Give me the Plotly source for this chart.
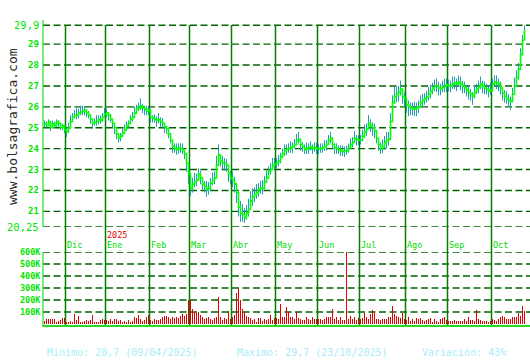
import plotly.graph_objects as go

W, H = 530, 360

# ---------------- data ----------------
month_labels = ["Dic", "Ene", "Feb", "Mar", "Abr", "May", "Jun", "Jul", "Ago", "Sep", "Oct"]
year_label = "2025"
year_month = "Ene"

close_nov = [25.2, 25.1, 25.3, 25.0, 25.2, 25.1, 25.3, 25.2, 25.0, 25.1, 24.9]
close_dec = [24.8, 25.0, 25.3, 25.5, 25.6, 25.6, 25.7, 25.75, 25.8, 25.85, 25.7, 25.6, 25.4, 25.2, 25.25, 25.3, 25.4, 25.35, 25.5, 25.65]
close_jan = [25.7, 25.6, 25.4, 25.2, 25.0, 24.7, 24.5, 24.6, 24.75, 24.9, 25.1, 25.2, 25.4, 25.5, 25.7, 25.9, 25.95, 26.05, 25.95, 25.9, 25.8, 25.85]
close_feb = [25.5, 25.45, 25.4, 25.35, 25.4, 25.3, 25.2, 25.05, 24.95, 24.7, 24.4, 24.1, 24.0, 23.95, 24.05, 24.0, 23.9, 23.75, 23.3, 22.8]
close_mar = [22.1, 22.3, 22.4, 22.5, 22.8, 22.6, 22.3, 22.2, 22.05, 22.1, 22.35, 22.5, 22.6, 23.2, 23.7, 23.4, 23.3, 23.3, 23.2, 22.8, 22.6]
close_apr = [22.5, 22.3, 21.9, 21.2, 20.9, 20.85, 20.7, 20.9, 21.1, 21.5, 21.7, 21.8, 21.9, 22.05, 22.1, 22.1, 22.4, 22.6, 22.9, 23.0, 23.2, 23.25]
close_may = [23.3, 23.4, 23.6, 23.75, 23.9, 24.0, 24.0, 24.05, 24.1, 24.2, 24.4, 24.45, 24.2, 24.1, 23.95, 24.0, 24.05, 24.1, 24.0, 24.05, 24.0]
close_jun = [24.0, 24.0, 24.05, 24.1, 24.2, 24.4, 24.5, 24.2, 24.05, 24.0, 23.95, 23.9, 23.85, 23.9, 23.9, 24.05, 24.2, 24.3, 24.5, 24.45, 24.4]
close_jul = [24.4, 24.6, 24.8, 24.95, 25.2, 25.1, 25.0, 24.85, 24.5, 24.2, 24.0, 24.1, 24.3, 24.4, 24.45, 25.3, 26.2, 26.5, 26.6, 26.7, 26.85, 26.5, 26.4]
close_aug = [26.1, 26.0, 25.95, 25.9, 25.9, 25.95, 26.0, 26.2, 26.3, 26.4, 26.45, 26.6, 26.75, 26.9, 27.0, 27.0, 26.9, 26.85, 26.95, 27.0, 27.05]
close_sep = [27.0, 27.0, 27.1, 27.15, 27.1, 27.2, 27.1, 27.0, 26.9, 26.8, 26.7, 26.6, 26.5, 26.7, 26.85, 26.95, 27.1, 27.0, 26.9, 26.85, 26.75, 26.8]
close_oct = [27.1, 27.2, 27.15, 27.1, 26.9, 26.65, 26.5, 26.4, 26.3, 26.25, 26.6, 27.0, 27.4, 27.8, 28.5, 29.2, 29.7]

# high above close / low below close, in cents
up_nov = [15, 20, 10, 25, 15, 20, 10, 15, 25, 10, 15]
dn_nov = [15, 10, 20, 15, 20, 10, 25, 15, 10, 20, 15]
up_dec = [20, 25, 30, 20, 25, 35, 20, 30, 25, 20, 15, 20, 25, 15, 20, 30, 20, 25, 20, 30]
dn_dec = [25, 20, 15, 20, 15, 20, 25, 15, 20, 25, 20, 15, 20, 25, 15, 20, 25, 15, 20, 15]
up_jan = [20, 15, 25, 20, 15, 20, 25, 15, 20, 25, 20, 15, 20, 25, 30, 20, 25, 35, 20, 15, 25, 20]
dn_jan = [20, 25, 15, 20, 30, 25, 20, 25, 15, 20, 25, 20, 15, 20, 25, 20, 15, 20, 25, 30, 20, 25]
up_feb = [20, 15, 25, 20, 30, 20, 25, 20, 15, 30, 35, 20, 25, 30, 20, 25, 35, 20, 25, 30]
dn_feb = [25, 20, 15, 30, 20, 25, 20, 30, 25, 20, 15, 30, 20, 25, 30, 20, 15, 25, 40, 50]
up_mar = [40, 30, 45, 30, 25, 35, 30, 25, 40, 30, 25, 35, 30, 45, 50, 30, 35, 25, 30, 40, 35]
dn_mar = [35, 40, 25, 30, 35, 30, 25, 30, 35, 30, 40, 25, 30, 35, 30, 25, 30, 35, 30, 40, 30]
up_apr = [40, 35, 45, 50, 60, 50, 45, 40, 50, 45, 40, 35, 40, 30, 35, 40, 30, 35, 25, 30, 35, 30]
dn_apr = [35, 40, 50, 45, 40, 35, 25, 30, 35, 40, 45, 35, 30, 35, 25, 30, 35, 25, 30, 25, 20, 25]
up_may = [25, 30, 20, 25, 30, 20, 25, 30, 20, 25, 30, 35, 25, 20, 25, 30, 20, 25, 20, 25, 30]
dn_may = [20, 25, 30, 20, 25, 30, 20, 25, 30, 20, 25, 20, 30, 25, 20, 25, 30, 20, 25, 20, 25]
up_jun = [20, 25, 20, 30, 20, 25, 30, 35, 20, 25, 20, 25, 30, 20, 25, 20, 30, 25, 35, 20, 25]
dn_jun = [25, 20, 25, 20, 30, 20, 25, 20, 30, 25, 20, 25, 20, 30, 20, 25, 20, 25, 20, 30, 25]
up_jul = [25, 30, 35, 25, 40, 30, 25, 35, 30, 25, 30, 35, 30, 40, 35, 40, 35, 45, 35, 30, 40, 35, 30]
dn_jul = [20, 25, 30, 35, 25, 30, 40, 35, 25, 30, 25, 30, 35, 40, 30, 35, 50, 35, 40, 45, 30, 35, 40]
up_aug = [35, 30, 25, 30, 35, 25, 30, 35, 30, 25, 30, 35, 30, 25, 30, 35, 30, 25, 30, 35, 30]
dn_aug = [40, 45, 35, 30, 35, 40, 30, 25, 35, 30, 25, 30, 35, 30, 25, 30, 35, 30, 25, 30, 35]
up_sep = [30, 25, 35, 30, 25, 30, 35, 25, 30, 25, 30, 25, 20, 30, 25, 30, 35, 25, 30, 25, 30, 35]
dn_sep = [25, 30, 25, 30, 35, 25, 30, 35, 25, 30, 35, 30, 40, 30, 25, 30, 25, 35, 30, 25, 30, 25]
up_oct = [25, 30, 35, 25, 30, 25, 30, 35, 30, 25, 30, 40, 35, 30, 30, 25, 20]
dn_oct = [30, 25, 30, 35, 30, 35, 30, 25, 30, 40, 35, 30, 40, 50, 60, 70, 50]

# volume, thousands
vol_nov = [22, 38, 42, 38, 42, 42, 15, 22, 35, 50, 48]
vol_dec = [20, 20, 28, 20, 85, 35, 65, 20, 15, 28, 35, 28, 35, 75, 15, 12, 20, 35, 40, 30]
vol_jan = [35, 28, 45, 22, 40, 45, 25, 35, 20, 28, 20, 35, 15, 28, 55, 50, 75, 40, 22, 35, 55, 75]
vol_feb = [35, 22, 40, 35, 30, 40, 55, 70, 65, 55, 40, 55, 50, 55, 50, 70, 80, 65, 85, 200]
vol_mar = [200, 125, 100, 90, 100, 75, 55, 40, 50, 55, 40, 30, 50, 60, 225, 55, 35, 50, 40, 110, 45]
vol_apr = [55, 75, 260, 300, 200, 125, 100, 70, 55, 50, 35, 40, 10, 50, 50, 25, 40, 35, 45, 75, 35, 50]
vol_may = [50, 45, 165, 55, 60, 140, 100, 60, 55, 45, 100, 50, 40, 30, 35, 55, 45, 30, 60, 40, 45]
vol_jun = [45, 40, 35, 45, 55, 55, 55, 125, 40, 55, 30, 55, 30, 30, 615, 45, 70, 40, 55, 30, 50]
vol_jul = [45, 50, 90, 60, 40, 80, 115, 95, 45, 45, 35, 45, 45, 40, 55, 60, 150, 80, 70, 55, 50, 90, 40]
vol_aug = [35, 55, 28, 40, 28, 50, 40, 50, 35, 28, 35, 40, 50, 20, 40, 28, 20, 40, 50, 55, 35]
vol_sep = [28, 28, 22, 35, 28, 28, 28, 28, 40, 28, 55, 30, 30, 28, 115, 40, 35, 28, 22, 28, 15, 25]
vol_oct = [40, 35, 28, 40, 55, 70, 55, 40, 40, 45, 55, 55, 55, 90, 65, 150, 110]

price_ticks = [20.25, 21, 22, 23, 24, 25, 26, 27, 28, 29, 29.9]
price_tick_text = ["20,25", "21", "22", "23", "24", "25", "26", "27", "28", "29", "29,9"]
vol_ticks = [100, 200, 300, 400, 500, 600]
vol_tick_text = ["100K", "200K", "300K", "400K", "500K", "600K"]

footer_min = "Minimo: 20,7 (09/04/2025)"
footer_max = "Maximo: 29,7 (23/10/2025)"
footer_var = "Variación: 43%"
watermark = "www.bolsagrafica.com"

# ---------------- assemble ----------------
closes_m = [close_nov, close_dec, close_jan, close_feb, close_mar, close_apr, close_may,
            close_jun, close_jul, close_aug, close_sep, close_oct]
ups_m = [up_nov, up_dec, up_jan, up_feb, up_mar, up_apr, up_may, up_jun, up_jul, up_aug, up_sep, up_oct]
dns_m = [dn_nov, dn_dec, dn_jan, dn_feb, dn_mar, dn_apr, dn_may, dn_jun, dn_jul, dn_aug, dn_sep, dn_oct]
vols_m = [vol_nov, vol_dec, vol_jan, vol_feb, vol_mar, vol_apr, vol_may, vol_jun, vol_jul, vol_aug, vol_sep, vol_oct]

close = [v for m in closes_m for v in m]
up = [v for m in ups_m for v in m]
dn = [v for m in dns_m for v in m]
vol = [v for m in vols_m for v in m]
n = len(close)
idx = list(range(n))
month_start = []
acc = 0
for m in closes_m[:-1]:
    acc += len(m)
    month_start.append(acc)

high = [c + u / 100 for c, u in zip(close, up)]
low = [c - d / 100 for c, d in zip(close, dn)]

def px_y(p):
    return 1 - p / H

def px_x(p):
    return p / W

X0 = 43
PX_PER_DAY = 2.0
x_start = -0.75   # half-pixel shift so 1px marks land on pixel centres
x_range = [x_start, x_start + (W - X0) / PX_PER_DAY]

# price panel: pixel rows 20..227, 20.25 at 227, 20.9 px per unit
P_TOP, P_BOT = 20, 227
p_lo = 20.25
p_hi = p_lo + (P_BOT - P_TOP) / 20.9
# volume panel: pixel rows 252..326, 600K at 252, 12 px per 100K
V_TOP, V_BOT = 252, 326
v_hi = 600
v_lo = v_hi - (V_BOT - V_TOP) / 0.12

bx, by = [], []
for i in idx:
    bx += [i, i, None]
    by += [low[i], high[i], None]

fig = go.Figure()
fig.add_trace(go.Scatter(x=bx, y=by, mode="lines", line=dict(color="#1e9fb2", width=1),
                         hoverinfo="skip", xaxis="x", yaxis="y"))
fig.add_trace(go.Scatter(x=idx, y=close, mode="lines", line=dict(color="#00ff00", width=1.6, shape="hv"),
                         xaxis="x", yaxis="y"))
fig.add_trace(go.Bar(x=idx, y=vol, width=0.5, marker=dict(color="#e00000", line=dict(width=0)),
                     xaxis="x2", yaxis="y2"))

shapes = []
GRID = dict(color="#006400", width=1.4, dash="7px,3.5px")
for t in price_ticks:
    shapes.append(dict(type="line", xref="paper", yref="y", x0=px_x(X0), x1=1, y0=t, y1=t,
                       line=GRID, layer="below"))
for t in vol_ticks:
    shapes.append(dict(type="line", xref="paper", yref="y2", x0=px_x(X0), x1=1, y0=t, y1=t,
                       line=GRID, layer="below"))
for s in month_start:
    shapes.append(dict(type="line", xref="x", yref="paper", x0=s - 0.5, x1=s - 0.5,
                       y0=px_y(V_BOT), y1=px_y(25), line=dict(color="#008000", width=1.5), layer="below"))
AX = dict(color="#22dd22", width=1.2)
shapes.append(dict(type="line", xref="paper", yref="paper", x0=px_x(X0), x1=px_x(X0),
                   y0=px_y(P_BOT), y1=px_y(P_TOP), line=AX))
shapes.append(dict(type="line", xref="paper", yref="paper", x0=px_x(X0), x1=px_x(X0),
                   y0=px_y(V_BOT + 1), y1=px_y(V_TOP), line=AX))
shapes.append(dict(type="line", xref="paper", yref="paper", x0=px_x(X0), x1=1,
                   y0=px_y(V_BOT), y1=px_y(V_BOT), line=dict(color="#22dd22", width=2)))

MONO = "DejaVu Sans Mono"
ann = []
for t, txt in zip(price_ticks, price_tick_text):
    big = "," in txt
    ann.append(dict(xref="paper", yref="y", x=px_x(41), y=t, text=txt if big else "<b>%s</b>" % txt,
                    showarrow=False, xanchor="right", yanchor="middle",
                    font=dict(family=MONO, size=10.5 if big else 9, color="#00e600")))
for t, txt in zip(vol_ticks, vol_tick_text):
    ann.append(dict(xref="paper", yref="y2", x=px_x(43), y=t, text="<b>%s</b>" % txt,
                    showarrow=False, xanchor="right", yanchor="middle",
                    font=dict(family=MONO, size=8.5, color="#00e600")))
for s, lab in zip(month_start, month_labels):
    ann.append(dict(xref="x", yref="paper", x=s - 0.25, y=px_y(245), text=lab, showarrow=False,
                    xanchor="left", yanchor="middle", borderpad=0,
                    font=dict(family=MONO, size=8.5, color="#00dd00")))
    if lab == year_month:
        ann.append(dict(xref="x", yref="paper", x=s - 0.25, y=px_y(234.5), text=year_label, showarrow=False,
                        xanchor="left", yanchor="middle", borderpad=0,
                        font=dict(family=MONO, size=8.5, color="#ee0000")))
FOOT = dict(family=MONO, size=10, color="#a8ecfa")
for xp, txt in [(45, footer_min), (235, footer_max), (420, footer_var)]:
    ann.append(dict(xref="paper", yref="paper", x=px_x(xp), y=px_y(352), text=txt, showarrow=False,
                    xanchor="left", yanchor="middle", font=FOOT))
ann.append(dict(xref="paper", yref="paper", x=px_x(12), y=px_y(127), text=watermark, textangle=-90,
                showarrow=False, xanchor="center", yanchor="middle",
                font=dict(family=MONO, size=13, color="#2a2a2a")))

fig.update_layout(
    width=W, height=H, margin=dict(l=0, r=0, t=0, b=0),
    paper_bgcolor="white", plot_bgcolor="white", showlegend=False,
    xaxis=dict(domain=[px_x(X0), 1], range=x_range, visible=False, fixedrange=True),
    xaxis2=dict(domain=[px_x(X0), 1], range=x_range, visible=False, anchor="y2", matches="x"),
    yaxis=dict(domain=[px_y(P_BOT), px_y(P_TOP)], range=[p_lo, p_hi], visible=False),
    yaxis2=dict(domain=[px_y(V_BOT), px_y(V_TOP)], range=[v_lo, v_hi], visible=False, anchor="x2"),
    shapes=shapes, annotations=ann, bargap=0,
)

fig.write_html("out.html")
